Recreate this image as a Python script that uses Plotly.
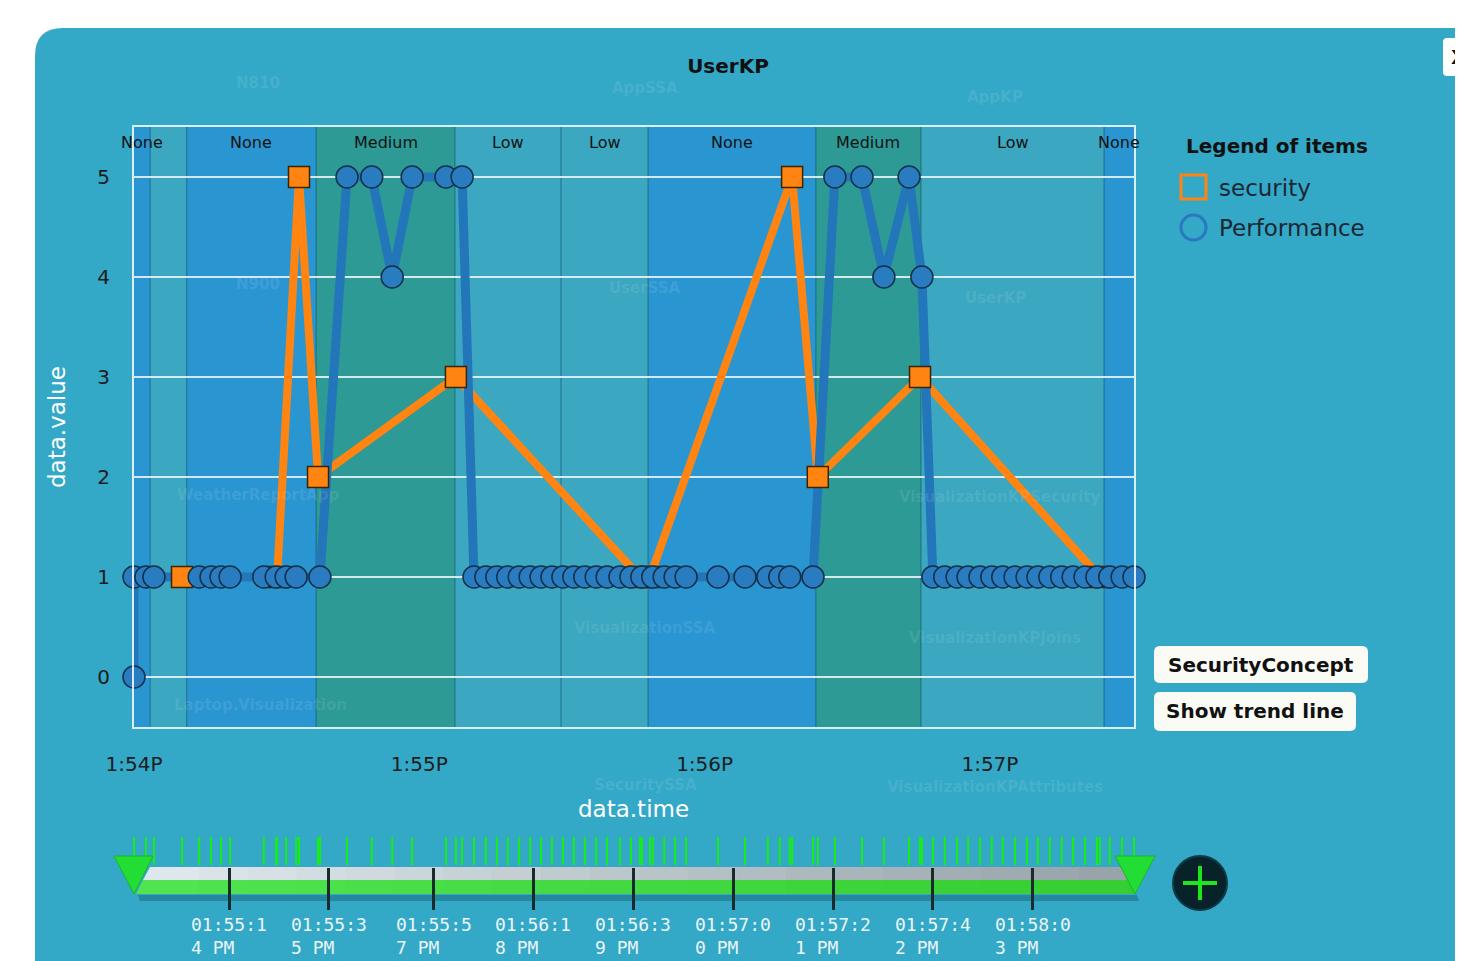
import plotly.graph_objects as go
from datetime import datetime, timedelta

W, H = 1463, 961
# the page places the figure 8 px from the window's top-left corner
OX, OY = 8, 8
BASE = datetime(2015, 1, 1, 13, 54, 0)


def T(s):
    return BASE + timedelta(seconds=s)


def px(x):
    return (x - OX) / W


def py(y):
    return 1 - (y - OY) / H


# ---------------- data (seconds after 13:54:00) ----------------
perf_seconds = [0.0, 0.0, 2.5, 4.2, 13.7, 16.2, 18.3, 20.2, 27.3, 29.9, 32.0, 34.1, 39.1,
                44.8, 50.0, 54.3, 58.5, 65.6, 69.0,
                71.5, 74.0, 76.3, 78.6, 81.0, 83.3, 85.6, 87.9, 90.2, 92.5, 94.8, 97.2,
                99.5, 102.2, 104.5, 106.8, 109.1, 111.5, 113.8, 116.1,
                122.8, 128.5, 133.3, 135.8, 137.9, 142.8,
                147.4, 153.1, 157.7, 163.0, 165.7,
                168.0, 170.5, 173.1, 175.4, 177.9, 180.4, 182.7, 185.3, 187.8, 190.1,
                192.6, 195.1, 197.5, 200.0, 202.5, 205.2, 207.8, 210.3]
perf_values = [0, 1, 1, 1, 1, 1, 1, 1, 1, 1, 1, 1, 1,
               5, 5, 4, 5, 5, 5,
               1, 1, 1, 1, 1, 1, 1, 1, 1, 1, 1, 1,
               1, 1, 1, 1, 1, 1, 1, 1,
               1, 1, 1, 1, 1, 1,
               5, 5, 4, 5, 4,
               1, 1, 1, 1, 1, 1, 1, 1, 1, 1,
               1, 1, 1, 1, 1, 1, 1, 1]

sec_seconds = [10.1, 30.1, 34.7, 38.7, 67.7, 106.4, 108.5, 138.4, 143.8, 165.3, 203.1]
sec_values = [1, 1, 5, 2, 3, 1, 1, 5, 2, 3, 1]

band_start = [0.0, 3.4, 11.1, 38.3, 67.5, 89.8, 108.1, 143.4, 165.5, 204.0]
band_end = [3.4, 11.1, 38.3, 67.5, 89.8, 108.1, 143.4, 165.5, 204.0, 210.3]
band_level = ["None", "Low", "None", "Medium", "Low", "Low", "None", "Medium", "Low", "None"]
band_label = ["None", "", "None", "Medium", "Low", "Low", "None", "Medium", "Low", "None"]
band_colors = {"None": "#2a96d1", "Medium": "#2d9a96", "Low": "#3ba7c0"}

x_tick_seconds = [0, 60, 120, 180]
x_tick_labels = ["1:54P", "1:55P", "1:56P", "1:57P"]
x_end_seconds = 210.3

slider_offset_seconds = 54
slider_tick_labels = ["01:55:14 PM", "01:55:35 PM", "01:55:57 PM", "01:56:18 PM", "01:56:39 PM",
                      "01:57:00 PM", "01:57:21 PM", "01:57:42 PM", "01:58:03 PM"]

watermarks = [("N810", 258, 83), ("AppSSA", 645, 88), ("AppKP", 995, 97),
              ("N900", 258, 284), ("UserSSA", 645, 288), ("UserKP", 995, 298),
              ("WeatherReportApp", 258, 495), ("VisualizationKPSecurity", 1000, 497),
              ("VisualizationSSA", 645, 628), ("VisualizationKPJoins", 995, 638),
              ("Laptop.Visualization", 260, 705), ("SecuritySSA", 645, 785),
              ("VisualizationKPAttributes", 995, 787)]

BLUE_LINE = "#2376b9"
BLUE_FILL = "#2a7cc0"
ORANGE = "#ff8412"

perf_x = [T(s) for s in perf_seconds]
sec_x = [T(s) for s in sec_seconds]

fig = go.Figure()
# lines first, then markers (orange squares sit above blue lines, below blue circles)
fig.add_trace(go.Scatter(x=sec_x, y=sec_values, mode="lines", name="security",
                         line=dict(color=ORANGE, width=8), cliponaxis=False, hoverinfo="skip"))
fig.add_trace(go.Scatter(x=perf_x, y=perf_values, mode="lines", name="Performance",
                         line=dict(color=BLUE_LINE, width=9), cliponaxis=False, hoverinfo="skip"))
fig.add_trace(go.Scatter(x=sec_x, y=sec_values, mode="markers", name="security",
                         marker=dict(symbol="square", size=21, color=ORANGE,
                                     line=dict(color="#3a2406", width=1.5)), cliponaxis=False))
fig.add_trace(go.Scatter(x=perf_x, y=perf_values, mode="markers", name="Performance",
                         marker=dict(symbol="circle", size=22, color=BLUE_FILL,
                                     line=dict(color="#12304a", width=1.5)), cliponaxis=False))

# slider data ticks (union of time stamps)
all_seconds = sorted(set(perf_seconds + sec_seconds))
fig.add_trace(go.Scatter(x=[T(s + slider_offset_seconds) for s in all_seconds],
                         y=[59] * len(all_seconds), xaxis="x2", yaxis="y2", mode="markers",
                         marker=dict(symbol="line-ns", size=20, line=dict(color="#16ee16", width=2)),
                         hoverinfo="skip", cliponaxis=False))

shapes = []
annotations = []


def path_from(points, close=True):
    s = "M " + " L ".join(f"{px(x):.5f},{py(y):.5f}" for x, y in points)
    return s + (" Z" if close else "")


def rrect(x0, y0, x1, y1, r):
    def P(x, y):
        return f"{px(x):.5f},{py(y):.5f}"
    return (f"M {P(x0 + r, y0)} L {P(x1 - r, y0)} Q {P(x1, y0)} {P(x1, y0 + r)} "
            f"L {P(x1, y1 - r)} Q {P(x1, y1)} {P(x1 - r, y1)} L {P(x0 + r, y1)} "
            f"Q {P(x0, y1)} {P(x0, y1 - r)} L {P(x0, y0 + r)} Q {P(x0, y0)} {P(x0 + r, y0)} Z")


def note(x, y, text, size, color="#111111", xanchor="center", yanchor="middle", **kw):
    d = dict(xref="paper", yref="paper", x=px(x), y=py(y), text=text, showarrow=False,
             xanchor=xanchor, yanchor=yanchor, font=dict(size=size, color=color))
    d.update(kw)
    annotations.append(d)


# panel background with rounded corner
shapes.append(dict(type="path", xref="paper", yref="paper", layer="below",
                   path=rrect(35, 28, 1520, 1020, 28), fillcolor="#34a8c7", line=dict(width=0)))

# bands
for s0, s1, lev in zip(band_start, band_end, band_level):
    shapes.append(dict(type="rect", xref="x", yref="y", x0=T(s0), x1=T(s1), y0=-0.5, y1=5.5,
                       fillcolor=band_colors[lev], line=dict(width=0), layer="below"))
for s0 in band_start[1:]:
    shapes.append(dict(type="line", xref="x", yref="y", x0=T(s0), x1=T(s0), y0=-0.5, y1=5.5,
                       line=dict(color="rgba(10,50,70,0.45)", width=1), layer="below"))
for s0, s1, lab in zip(band_start, band_end, band_label):
    if lab:
        annotations.append(dict(xref="x", yref="paper", x=T((s0 + s1) / 2), y=py(142),
                                text=lab, showarrow=False, font=dict(size=16, color="#111111"),
                                xanchor="center", yanchor="middle"))

# watermark texts (faint background graph)
for txt, wx, wy in watermarks:
    note(wx, wy, f"<b>{txt}</b>", 15, color="rgba(255,255,255,0.10)", borderpad=0)

# axis titles
note(633, 809, "data.time", 23, color="white", borderpad=0)
note(57, 427, "data.value", 23, color="white", textangle=-90)

# legend (manual)
note(1184, 146, "<b>Legend of items</b>", 20, xanchor="left")
shapes.append(dict(type="rect", xref="paper", yref="paper", x0=px(1181), x1=px(1206),
                   y0=py(199), y1=py(175), line=dict(color=ORANGE, width=3), fillcolor="rgba(0,0,0,0)"))
note(1217, 188, "security", 23, color="#1b2733", xanchor="left")
shapes.append(dict(type="circle", xref="paper", yref="paper", x0=px(1181), x1=px(1206),
                   y0=py(240), y1=py(215), line=dict(color="#2a78c0", width=3), fillcolor="rgba(0,0,0,0)"))
note(1217, 228, "Performance", 23, color="#1b2733", xanchor="left")

# buttons
shapes.append(dict(type="path", xref="paper", yref="paper", path=rrect(1154, 646, 1368, 683, 6),
                   fillcolor="#fbfbf6", line=dict(width=0)))
note(1261, 665, "<b>SecurityConcept</b>", 20)
shapes.append(dict(type="path", xref="paper", yref="paper", path=rrect(1154, 692, 1356, 731, 6),
                   fillcolor="#fbfbf6", line=dict(width=0)))
note(1255, 711, "<b>Show trend line</b>", 20)

# close button (cut by the window edge as in the reference)
shapes.append(dict(type="path", xref="paper", yref="paper", path=rrect(1443, 38, 1480, 76, 4),
                   fillcolor="#ffffff", line=dict(width=0)))
note(1449, 57, "<b>X</b>", 20, xanchor="left")

# slider bar
shapes.append(dict(type="path", xref="paper", yref="paper", layer="below",
                   path=path_from([(138, 895), (1137, 895), (1139, 901), (140, 901)]),
                   fillcolor="rgba(0,30,45,0.25)", line=dict(width=0)))
n_seg = 20
x_left_top, x_right = 150, 1128
seg_w = (x_right - x_left_top) / n_seg
for i in range(n_seg):
    f = i / (n_seg - 1)
    g_top = (int(222 - 70 * f), int(232 - 68 * f), int(236 - 66 * f))
    g_bot = (int(80 - 25 * f), int(228 - 22 * f), int(80 - 28 * f))
    xa = x_left_top + i * seg_w
    xb = xa + seg_w + 0.6
    if i == 0:
        top_pts = [(xa, 867), (xb, 867), (xb, 880), (xa - 7, 880)]
        bot_pts = [(xa - 7, 880), (xb, 880), (xb, 894), (xa - 14, 894)]
    else:
        top_pts = [(xa, 867), (xb, 867), (xb, 880), (xa, 880)]
        bot_pts = [(xa, 880), (xb, 880), (xb, 894), (xa, 894)]
    shapes.append(dict(type="path", xref="paper", yref="paper", layer="below", path=path_from(top_pts),
                       fillcolor="rgb(%d,%d,%d)" % g_top, line=dict(width=0)))
    shapes.append(dict(type="path", xref="paper", yref="paper", layer="below", path=path_from(bot_pts),
                       fillcolor="rgb(%d,%d,%d)" % g_bot, line=dict(width=0)))
shapes.append(dict(type="path", xref="paper", yref="paper", layer="below",
                   path=path_from([(x_right, 867), (x_right + 2, 867), (x_right + 8, 894), (x_right, 894)]),
                   fillcolor="rgb(52,204,52)", line=dict(width=0)))
# green handles
shapes.append(dict(type="path", xref="paper", yref="paper",
                   path=path_from([(114, 856), (153, 856), (134, 894)]),
                   fillcolor="#22dd33", line=dict(color="#19b827", width=1)))
shapes.append(dict(type="path", xref="paper", yref="paper",
                   path=path_from([(1115, 856), (1155, 856), (1135, 894)]),
                   fillcolor="#22dd33", line=dict(color="#19b827", width=1)))


def slider_seconds(lab):
    hh, mm, rest = lab.split(":")
    ss = int(rest.split()[0])
    return (int(hh) + 12 - 13) * 3600 + (int(mm) - 54) * 60 + ss


slider_tick_vals = [T(slider_seconds(lab)) for lab in slider_tick_labels]
for lab, tv in zip(slider_tick_labels, slider_tick_vals):
    txt = lab[:7] + "<br>" + lab[7:].strip()
    annotations.append(dict(xref="x2", yref="paper", x=tv, y=py(936), text=txt,
                            showarrow=False, align="left", xanchor="center", yanchor="middle",
                            font=dict(family="DejaVu Sans Mono", size=18, color="#eaf6f8")))

# plus button
shapes.append(dict(type="circle", xref="paper", yref="paper", x0=px(1173), x1=px(1227),
                   y0=py(910), y1=py(856), fillcolor="#072229", line=dict(color="#0e3c48", width=2)))
shapes.append(dict(type="line", xref="paper", yref="paper", x0=px(1183), x1=px(1217),
                   y0=py(883), y1=py(883), line=dict(color="#1ee51e", width=4)))
shapes.append(dict(type="line", xref="paper", yref="paper", x0=px(1200), x1=px(1200),
                   y0=py(866), y1=py(900), line=dict(color="#1ee51e", width=4)))

AX_LINE = "rgba(236,246,250,0.9)"
fig.update_layout(
    width=W, height=H, autosize=False, margin=dict(l=0, r=0, t=0, b=0, pad=0, autoexpand=False),
    paper_bgcolor="white", plot_bgcolor="rgba(0,0,0,0)", showlegend=False,
    font=dict(family="DejaVu Sans", color="#1a1a1a"),
    title=dict(text="<b>UserKP</b>", x=px(728), y=py(66), xref="paper", yref="paper",
               xanchor="center", yanchor="middle", font=dict(size=20, color="#111111"),
               automargin=False),
    xaxis=dict(type="date", domain=[px(134), px(1134)], range=[T(0), T(x_end_seconds)],
               tickvals=[T(s) for s in x_tick_seconds], ticktext=x_tick_labels,
               showgrid=False, zeroline=False, showline=True, mirror=True,
               linecolor=AX_LINE, linewidth=2, ticks="outside", ticklen=18,
               tickcolor="rgba(0,0,0,0)", tickfont=dict(size=20, color="#1c1c1c"),
               automargin=False),
    yaxis=dict(domain=[py(727), py(127)], range=[-0.5, 5.5], tickvals=[0, 1, 2, 3, 4, 5],
               showgrid=True, gridcolor="rgba(240,248,252,0.85)", gridwidth=1.5,
               zeroline=False, showline=True, mirror=True, linecolor=AX_LINE, linewidth=2,
               ticks="outside", ticklen=18, tickcolor="rgba(0,0,0,0)",
               tickfont=dict(size=20, color="#1c1c1c"), automargin=False),
    xaxis2=dict(type="date", domain=[px(134), px(1134)],
                range=[T(slider_offset_seconds), T(x_end_seconds + slider_offset_seconds)],
                anchor="y2", showgrid=False, zeroline=False, showline=False,
                tickvals=slider_tick_vals, ticks="inside", ticklen=42, tickwidth=2.5,
                tickcolor="#1b2b2b", showticklabels=False, automargin=False),
    yaxis2=dict(domain=[py(910), py(838)], range=[0, 72], visible=False, anchor="x2",
                automargin=False),
    shapes=shapes, annotations=annotations,
)

fig.write_html("out.html")
